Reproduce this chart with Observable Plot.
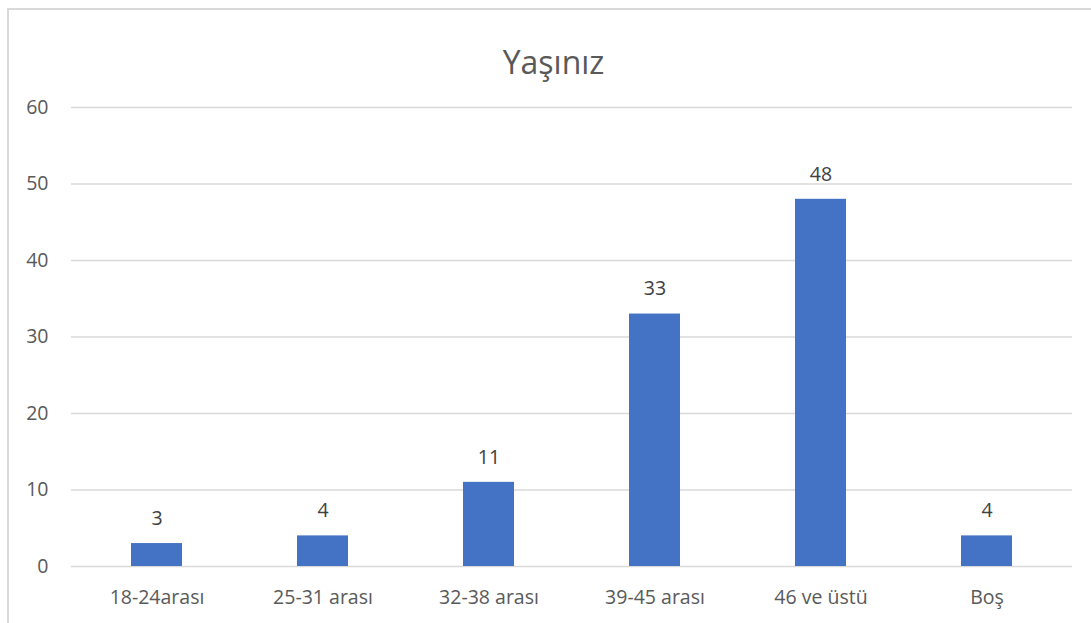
<!DOCTYPE html>
<html>
<head>
<meta charset="utf-8">
<script src="https://cdn.jsdelivr.net/npm/d3@7"></script>
<script src="https://cdn.jsdelivr.net/npm/@observablehq/plot@0.6"></script>
<style>
  html, body { margin: 0; padding: 0; background: #fff; }
  #wrap { position: relative; width: 1091px; height: 623px; overflow: hidden; }
  #frame { position: absolute; left: 7px; top: 8px; width: 1200px; height: 800px;
           border-left: 2px solid #d9d9d9; border-top: 2px solid #d9d9d9; box-sizing: border-box; }
  #chart { position: absolute; left: 0; top: 0; }
</style>
</head>
<body>
<div id="wrap"><div id="frame"></div><div id="chart"></div></div>
<script>
const title = "Yaşınız";
const categories = ["18-24arası", "25-31 arası", "32-38 arası", "39-45 arası", "46 ve üstü", "Boş"];
const values = [3, 4, 11, 33, 48, 4];
const yTicks = [0, 10, 20, 30, 40, 50, 60];

const data = categories.map((c, i) => ({category: c, value: values[i]}));

const chart = Plot.plot({
  width: 1091,
  height: 623,
  marginLeft: 71,
  marginRight: 19,
  marginTop: 107,
  marginBottom: 57,
  style: {fontFamily: "'Open Sans', sans-serif", fontSize: "19.5px", color: "#595959", background: "transparent"},
  x: {domain: categories, paddingInner: 0.69, paddingOuter: 0.345, label: null, tickSize: 0, tickPadding: 24},
  y: {domain: [0, 60], ticks: yTicks, label: null, tickSize: 0, tickPadding: 23, tickFormat: d => String(d)},
  marks: [
    Plot.gridY(yTicks, {stroke: "#d9d9d9", strokeOpacity: 1, strokeWidth: 1.5}),
    Plot.barY(data, {x: "category", y: "value", fill: "#4472C4"}),
    Plot.text(data, {x: "category", y: "value", text: d => String(d.value), dy: -25, fill: "#404040", fontSize: 19.5}),
    Plot.text([title], {frameAnchor: "top-left", textAnchor: "middle", dx: 482, dy: -56, fontSize: 32, fill: "#595959"})
  ]
});
document.getElementById("chart").appendChild(chart);
</script>
</body>
</html>
